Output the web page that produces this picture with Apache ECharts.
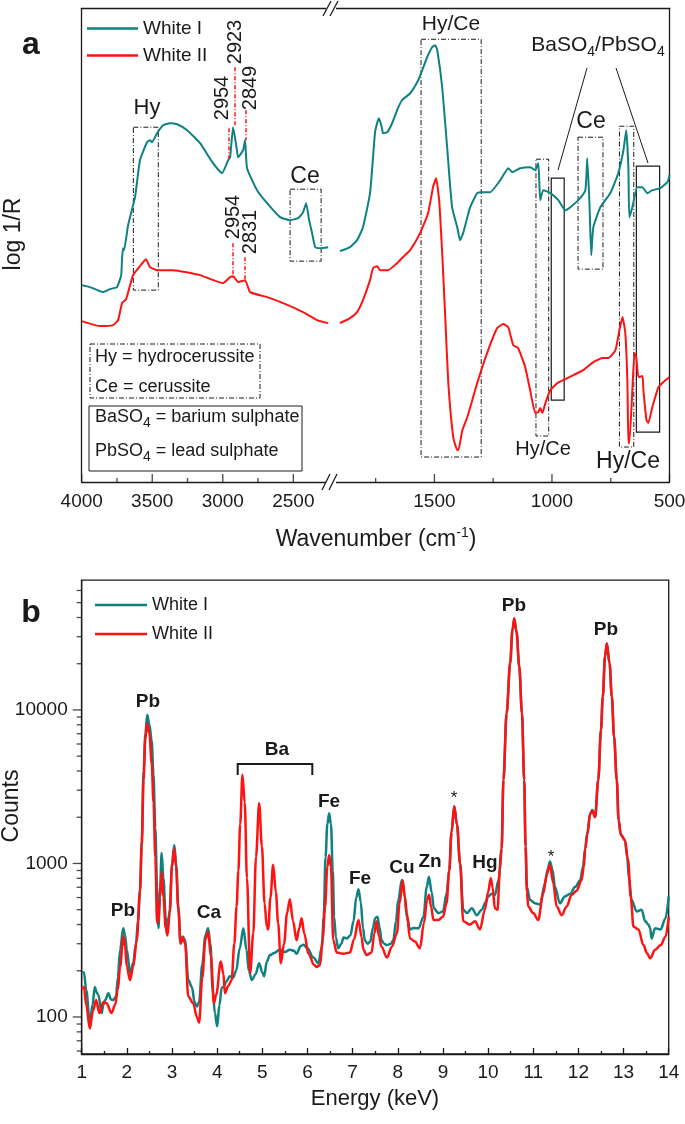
<!DOCTYPE html>
<html>
<head>
<meta charset="utf-8">
<script src="https://cdn.jsdelivr.net/npm/echarts@6/dist/echarts.min.js"></script>
<style>
html,body{margin:0;padding:0;background:#fff;}
#main{width:685px;height:1124px;}
</style>
</head>
<body>
<div id="main"></div>
<script>
// ---------- panel a : FTIR, log 1/R in arbitrary units ----------
// left part of the broken axis (4000 - 2250 cm-1)
const ftirWnTealLeft = [4000,3941,3849,3800,3750,3720,3714,3707,3700,3671,3622,3587,3537,3516,3501,3466,3423,3374,3324,3253,3161,3069,3005,2962,2948,2927,2905,2891,2856,2842,2828,2757,2686,2594,2523,2466,2431,2409,2388,2367,2345,2310,2253];
const ftirTealLeft   = [177,175,170,173,175,187,204,214,212,237,265,302,320,322,320,329,337,339,338,332,319,299,289,302,305,335,317,305,312,322,294,272,259,245,242,244,250,259,242,229,215,214,215];
const ftirWnRedLeft  = [4000,3870,3778,3742,3714,3685,3636,3587,3544,3516,3466,3353,3161,2998,2948,2927,2891,2842,2806,2686,2572,2431,2332,2253];
const ftirRedLeft    = [141,136,137,142,159,163,187,196,203,195,192,192,187,179,185,186,180,182,170,165,159,150,142,139];

// right part (1940 - 500 cm-1)
const ftirWnTealRight = [1902,1859,1829,1804,1774,1753,1744,1736,1723,1719,1701,1680,1659,1638,1603,1569,1552,1531,1510,1497,1488,1467,1446,1425,1403,1391,1378,1348,1318,1297,1263,1220,1186,1169,1135,1092,1071,1058,1050,1037,1007,973,943,922,888,858,850,841,833,824,794,752,718,696,684,675,671,658,637,616,594,573,539,509,500];
const ftirTealRight   = [211,215,222,235,269,329,339,344,334,329,330,339,352,362,369,382,392,405,415,417,412,375,315,255,235,222,229,255,269,270,270,282,294,290,294,295,292,299,262,272,269,262,252,255,262,272,304,262,207,235,255,269,289,312,332,295,245,255,275,275,269,272,274,280,287];
const ftirWnRedRight  = [1902,1859,1829,1804,1774,1761,1744,1731,1697,1659,1625,1603,1561,1527,1506,1493,1480,1467,1454,1441,1420,1403,1398,1381,1360,1318,1276,1233,1207,1186,1165,1144,1114,1093,1071,1058,1050,1041,1028,1007,986,977,952,909,867,824,786,760,730,713,700,688,679,675,671,658,649,641,632,615,611,598,590,573,547,526,500];
const ftirRedRight    = [139,144,150,162,182,194,196,192,192,199,207,212,229,249,275,284,262,209,145,79,25,12,12,32,45,79,109,134,138,135,117,114,95,72,49,50,54,49,59,72,77,79,82,87,92,100,104,104,112,132,145,129,79,19,19,72,109,104,85,86,72,42,39,55,75,80,85];

// band boxes [wn1, val1, wn2, val2]
const boxesDashLeft  = [[3634,335,3457,172],[2523,273,2303,201]];
const boxesDashRight = [[1557,423,1301,5],[1068,303,1014,26],[889,325,783,193],[713,336,652,15]];
const boxesSolidRight = [[1003,284,948,62],[641,296,542,30]];
// red guide marks [wn, from, to]
const peakMarks = [[2957,334,304],[2912,395,335],[2838,352,322],[2926,219,185],[2842,205,182]];

const wnTicksLeft = [2500,3000,3500,4000];
const wnMinorLeft = [2750,3250,3750];
const wnTicksRight = [500,1000,1500];
const wnMinorRight = [750,1250,1750];

// ---------- panel b : XRF ----------
const xrfEnergyI = [1.00,1.05,1.10,1.18,1.24,1.29,1.33,1.37,1.44,1.48,1.52,1.59,1.65,1.70,1.76,1.80,1.85,1.92,1.96,2.00,2.07,2.14,2.20,2.25,2.29,2.33,2.37,2.41,2.45,2.50,2.55,2.59,2.63,2.67,2.70,2.73,2.77,2.81,2.86,2.90,2.95,3.00,3.05,3.09,3.14,3.19,3.24,3.29,3.36,3.44,3.50,3.55,3.60,3.67,3.74,3.80,3.85,3.90,3.95,4.00,4.05,4.10,4.14,4.20,4.28,4.35,4.42,4.50,4.58,4.65,4.70,4.77,4.85,4.93,5.00,5.04,5.10,5.17,5.25,5.39,5.50,5.61,5.70,5.76,5.85,5.91,6.00,6.13,6.24,6.32,6.36,6.40,6.44,6.48,6.52,6.56,6.59,6.63,6.68,6.75,6.80,6.87,6.95,7.02,7.08,7.13,7.18,7.23,7.27,7.33,7.39,7.45,7.50,7.55,7.60,7.64,7.70,7.76,7.85,7.90,7.96,8.01,8.09,8.15,8.20,8.27,8.35,8.46,8.57,8.64,8.69,8.75,8.80,8.90,9.00,9.08,9.14,9.19,9.25,9.31,9.38,9.45,9.53,9.64,9.75,9.86,9.95,10.00,10.08,10.15,10.23,10.30,10.34,10.41,10.49,10.54,10.58,10.63,10.69,10.75,10.80,10.83,10.86,10.93,11.04,11.15,11.26,11.32,11.37,11.43,11.48,11.59,11.70,11.82,11.93,12.04,12.10,12.15,12.20,12.26,12.31,12.37,12.44,12.50,12.54,12.59,12.63,12.69,12.74,12.79,12.85,12.89,12.94,13.03,13.08,13.12,13.18,13.29,13.40,13.48,13.55,13.59,13.62,13.70,13.82,13.93,14.00];
const xrfCountsI = [197,195,150,91,120,157,145,139,106,120,129,143,130,129,136,180,274,378,340,274,193,224,300,428,672,1400,4000,7000,9300,8000,6300,3800,1700,700,380,600,1170,800,450,372,500,1000,1320,1000,524,302,335,316,174,157,125,117,125,220,340,378,300,150,106,87,120,155,157,170,184,180,200,280,378,274,200,174,190,224,195,184,230,253,260,274,265,274,270,258,290,295,280,244,224,287,450,1100,1800,2120,1800,900,450,330,280,300,330,325,340,420,600,680,560,380,316,300,310,380,440,450,380,316,300,294,300,316,420,578,780,620,450,372,380,378,450,700,820,650,510,475,487,635,900,1600,2370,1800,1000,500,475,510,460,500,560,610,635,620,776,1250,3500,9500,20000,33000,39000,32000,19000,9500,3500,1290,700,578,550,540,740,920,1030,900,705,550,610,635,705,776,950,1250,1600,2120,2230,2010,3500,7400,12200,22200,26900,20100,12200,6700,3500,1920,1540,1420,1100,800,578,487,500,420,400,378,325,378,372,440,610];
const xrfEnergyII = [1.00,1.05,1.10,1.18,1.25,1.32,1.39,1.48,1.55,1.66,1.74,1.80,1.85,1.92,1.96,2.00,2.07,2.14,2.22,2.29,2.33,2.37,2.41,2.45,2.50,2.55,2.59,2.63,2.67,2.70,2.73,2.77,2.81,2.86,2.90,2.95,3.00,3.05,3.09,3.14,3.19,3.24,3.29,3.36,3.47,3.55,3.60,3.67,3.74,3.80,3.86,3.93,3.98,4.08,4.14,4.17,4.25,4.32,4.38,4.43,4.47,4.51,4.56,4.61,4.66,4.73,4.80,4.86,4.93,4.99,5.05,5.10,5.13,5.18,5.24,5.30,5.35,5.41,5.48,5.55,5.61,5.68,5.76,5.82,5.87,5.93,6.02,6.15,6.20,6.28,6.34,6.39,6.44,6.48,6.52,6.57,6.65,6.79,6.94,7.03,7.13,7.20,7.24,7.31,7.42,7.48,7.53,7.58,7.64,7.76,7.87,7.98,8.04,8.11,8.16,8.20,8.27,8.38,8.49,8.58,8.65,8.69,8.74,8.79,8.90,9.00,9.08,9.14,9.19,9.25,9.31,9.38,9.45,9.60,9.71,9.82,9.93,10.00,10.06,10.10,10.15,10.21,10.26,10.30,10.34,10.41,10.49,10.54,10.58,10.63,10.69,10.75,10.80,10.83,10.86,10.89,11.00,11.11,11.22,11.30,11.37,11.44,11.52,11.63,11.74,11.85,11.96,12.07,12.12,12.15,12.20,12.26,12.31,12.37,12.44,12.50,12.54,12.59,12.63,12.69,12.74,12.79,12.85,12.89,12.94,13.03,13.10,13.16,13.22,13.33,13.44,13.52,13.59,13.70,13.82,13.93,14.00];
const xrfCountsII = [153,157,120,84,110,129,106,125,123,106,120,150,212,335,290,212,174,212,316,650,1300,3500,6500,8200,7000,4500,2500,1100,410,420,600,885,600,380,340,480,950,1250,950,500,300,330,300,136,123,100,92,180,320,360,250,123,140,230,190,143,160,174,300,524,900,1800,3780,2500,800,193,350,1100,2470,1300,550,387,372,600,980,650,410,224,300,480,585,420,316,380,440,350,258,218,212,218,330,524,950,1135,950,316,263,258,263,320,428,330,274,253,263,350,420,340,287,244,287,350,550,776,600,475,325,310,280,410,580,625,520,428,428,450,550,900,1600,2350,1800,1000,420,400,420,372,500,650,800,700,510,500,910,1250,3500,9500,20500,33500,39500,32500,19500,9600,3500,1290,650,524,475,428,635,850,980,750,524,460,524,625,665,776,950,1250,1550,2100,2200,2000,3500,7400,12200,22500,27200,20100,12300,6700,3500,1920,1540,1420,1060,600,387,372,294,260,241,274,294,333,450];

const countTicksMajor = [100,1000,10000];
const countTicksMinor = [60,70,80,90,200,300,400,500,600,700,800,900,2000,3000,4000,5000,6000,7000,8000,9000,20000,30000,40000,50000,60000];

const FONT = '"Liberation Sans", Arial, Helvetica, sans-serif';
const TEAL = '#0e8181';
const RED = '#ff1212';
const INK = '#1a1a1a';
const FTIR_MIN = -20, FTIR_MAX = 454;

function zip(xs, ys) { return xs.map(function (x, i) { return [x, ys[i]]; }); }

function txt(x, y, text, size, bold, rot, align) {
  var al = align || 'center';
  return {
    type: 'text', x: x, y: y, rotation: rot || 0, z: 60, silent: true,
    style: {
      text: text, fill: INK,
      font: (bold ? 'bold ' : '') + size + 'px ' + FONT,
      align: al, verticalAlign: 'middle',
      textAlign: al, textVerticalAlign: 'middle'
    }
  };
}

// text made of pieces, some lowered (sub) or raised (sup); pieces are [text, kind]
const measureCtx = document.createElement('canvas').getContext('2d');
function textWidth(s, size) { measureCtx.font = size + 'px ' + FONT; return measureCtx.measureText(s).width; }
function pieceText(x, y, pieces, size, smallSize, align) {
  var widths = pieces.map(function (p) { return textWidth(p[0], p[1] ? smallSize : size); });
  var total = widths.reduce(function (a, b) { return a + b; }, 0);
  var cx = align === 'left' ? x : x - total / 2;
  var out = [];
  pieces.forEach(function (p, i) {
    var dy = p[1] === 'sub' ? size * 0.32 : (p[1] === 'sup' ? -size * 0.3 : 0);
    out.push(txt(cx, y + dy, p[0], p[1] ? smallSize : size, false, 0, 'left'));
    cx += widths[i];
  });
  return out;
}
function seg(x1, y1, x2, y2, w, dash) {
  return { type: 'line', z: 60, silent: true, shape: { x1: x1, y1: y1, x2: x2, y2: y2 },
    style: { stroke: INK, lineWidth: w || 1, lineDash: dash || null } };
}
function box(x, y, w, h, dash) {
  return { type: 'rect', z: 60, silent: true, shape: { x: x, y: y, width: w, height: h },
    style: { fill: 'none', stroke: INK, lineWidth: 1, lineDash: dash || null } };
}
function areaData(list, style) {
  return list.map(function (b) {
    return [{ coord: [b[0], b[1]], itemStyle: style }, { coord: [b[2], b[3]] }];
  });
}
// inward tick marks on the bottom axis of a panel-a grid
function tickSeries(xi, yi, values, len) {
  return { name: 'tick' + xi + '_' + len, type: 'scatter', xAxisIndex: xi, yAxisIndex: yi, clip: false, silent: true, z: 10,
    data: values.map(function (v) { return [v, FTIR_MIN]; }),
    symbol: 'rect', symbolSize: [1.3, len], symbolOffset: [0, -len / 2], itemStyle: { color: INK } };
}

const DASHDOT = [5, 2, 1, 2];
const axLine = { show: true, onZero: false, lineStyle: { color: INK, width: 1.3 } };
const tickLbl = { fontSize: 19, color: INK, fontFamily: FONT };

function wnAxis(grid, min, max, pos, labels) {
  return {
    type: 'value', gridIndex: grid, inverse: true, min: min, max: max, position: pos,
    axisLine: axLine,
    axisTick: { show: false },
    axisLabel: labels ? Object.assign({ customValues: labels, margin: 10,
      formatter: function (v) { return String(Math.round(v)); } }, tickLbl) : { show: false },
    splitLine: { show: false }
  };
}

const gridTop = 8.3, gridH = 473.7;

const graphics = [
  // panel a
  txt(31, 45, 'a', 32, true),
  txt(14, 234, 'log 1/R', 23, false, Math.PI / 2),
  txt(147, 108, 'Hy', 22),
  txt(305, 177, 'Ce', 23),
  txt(451, 24, 'Hy/Ce', 21),
  txt(591, 122, 'Ce', 23),
  txt(543, 449, 'Hy/Ce', 20),
  txt(628, 462, 'Hy/Ce', 23),
  txt(222, 98, '2954', 20, false, Math.PI / 2),
  txt(235, 42, '2923', 20, false, Math.PI / 2),
  txt(250, 88, '2849', 20, false, Math.PI / 2),
  txt(233, 217, '2954', 20, false, Math.PI / 2),
  txt(250, 232, '2831', 20, false, Math.PI / 2),
  seg(587, 68, 558, 170, 1),
  seg(616, 68, 648, 163, 1),
  box(90, 344, 170, 54, DASHDOT),
  box(89, 406, 213, 65),
  txt(95, 357, 'Hy = hydrocerussite', 18, false, 0, 'left'),
  txt(95, 387, 'Ce = cerussite', 18, false, 0, 'left'),
  // axis break marks
  { type: 'rect', z: 55, silent: true, shape: { x: 326, y: 2, width: 10, height: 13 }, style: { fill: '#fff' } },
  { type: 'rect', z: 55, silent: true, shape: { x: 326, y: 475, width: 10, height: 13 }, style: { fill: '#fff' } },
  seg(323, 16, 331, 1, 1.3), seg(330, 16, 338, 1, 1.3),
  seg(322, 490, 330, 474, 1.3), seg(329, 490, 337, 474, 1.3),
  // panel b
  txt(31, 613, 'b', 32, true),
  txt(12, 806, 'Counts', 23, false, Math.PI / 2),
  txt(375, 1099, 'Energy (keV)', 22),
  txt(148, 702, 'Pb', 19, true),
  txt(277, 750, 'Ba', 19, true),
  { type: 'polyline', z: 60, silent: true, shape: { points: [[237.7, 775], [237.7, 764], [312.3, 764], [312.3, 775]] },
    style: { stroke: INK, lineWidth: 2, fill: 'none' } },
  txt(329, 802, 'Fe', 19, true),
  txt(123, 911, 'Pb', 19, true),
  txt(209, 913, 'Ca', 19, true),
  txt(360, 879, 'Fe', 19, true),
  txt(402, 868, 'Cu', 19, true),
  txt(430, 862, 'Zn', 19, true),
  txt(485, 863, 'Hg', 19, true),
  txt(454, 798, '*', 17),
  txt(551, 857, '*', 17),
  txt(514, 606, 'Pb', 19, true),
  txt(606, 630, 'Pb', 19, true)
].concat(
  pieceText(376, 540, [['Wavenumber (cm'], ['-1', 'sup'], [')']], 23, 14, 'center'),
  pieceText(598, 45, [['BaSO'], ['4', 'sub'], ['/PbSO'], ['4', 'sub']], 21, 14, 'center'),
  pieceText(95, 417, [['BaSO'], ['4', 'sub'], [' = barium sulphate']], 18, 14, 'left'),
  pieceText(95, 451, [['PbSO'], ['4', 'sub'], [' = lead sulphate']], 18, 14, 'left')
);

const option = {
  animation: false,
  backgroundColor: '#fff',
  textStyle: { fontFamily: FONT },
  grid: [
    { left: 81.7, top: gridTop, width: 246.9, height: gridH, outerBoundsMode: 'none' },
    { left: 331, top: gridTop, width: 338.5, height: gridH, outerBoundsMode: 'none' },
    { left: 81.7, top: 580.2, width: 587, height: 473.8, show: true, borderColor: INK, borderWidth: 1.3,
      backgroundColor: 'transparent', outerBoundsMode: 'none' }
  ],
  xAxis: [
    wnAxis(0, 2250, 4000, 'bottom', wnTicksLeft),
    wnAxis(0, 2250, 4000, 'top', null),
    wnAxis(1, 500, 1940, 'bottom', wnTicksRight),
    wnAxis(1, 500, 1940, 'top', null),
    {
      type: 'value', gridIndex: 2, min: 1, max: 14, interval: 1, position: 'bottom',
      axisLine: axLine,
      axisTick: { show: true, inside: true, length: 6, lineStyle: { color: INK, width: 1.3 } },
      minorTick: { show: true, splitNumber: 2, length: 3, lineStyle: { color: INK, width: 1.3 } },
      axisLabel: Object.assign({ margin: 9 }, tickLbl),
      splitLine: { show: false }
    }
  ],
  yAxis: [
    { type: 'value', gridIndex: 0, min: FTIR_MIN, max: FTIR_MAX, position: 'left', axisLine: axLine,
      axisTick: { show: false }, axisLabel: { show: false }, splitLine: { show: false } },
    { type: 'value', gridIndex: 1, min: FTIR_MIN, max: FTIR_MAX, position: 'right', axisLine: axLine,
      axisTick: { show: false }, axisLabel: { show: false }, splitLine: { show: false } },
    { type: 'log', logBase: 10, gridIndex: 2, min: 57.4, max: 70000, position: 'left', axisLine: axLine,
      axisTick: { show: false }, splitLine: { show: false },
      axisLabel: Object.assign({
        margin: 14,
        formatter: function (v) {
          var r = Math.round(v);
          return countTicksMajor.indexOf(r) >= 0 ? String(r) : '';
        }
      }, tickLbl) }
  ],
  legend: [
    { left: 87, top: 19, orient: 'vertical', padding: 0, icon: 'rect', itemWidth: 51, itemHeight: 2.5, itemGap: 8,
      data: ['White I', 'White II'], textStyle: { fontSize: 19, color: INK, fontFamily: FONT }, selectedMode: false },
    { left: 95, top: 596, orient: 'vertical', padding: 0, icon: 'rect', itemWidth: 52, itemHeight: 2.5, itemGap: 11,
      data: ['White I', 'White II'], textStyle: { fontSize: 18, color: INK, fontFamily: FONT }, selectedMode: false }
  ],
  series: [
    { name: 'White I', type: 'line', xAxisIndex: 0, yAxisIndex: 0, data: zip(ftirWnTealLeft, ftirTealLeft),
      showSymbol: false, smooth: 0.15, lineStyle: { color: TEAL, width: 2 }, itemStyle: { color: TEAL },
      markArea: { silent: true, label: { show: false },
        itemStyle: { color: 'rgba(0,0,0,0)', borderColor: INK, borderWidth: 1, borderType: DASHDOT },
        data: areaData(boxesDashLeft) } },
    { name: 'White II', type: 'line', xAxisIndex: 0, yAxisIndex: 0, data: zip(ftirWnRedLeft, ftirRedLeft),
      showSymbol: false, smooth: 0.15, lineStyle: { color: RED, width: 2 }, itemStyle: { color: RED },
      markLine: { silent: true, symbol: ['none', 'none'], label: { show: false },
        lineStyle: { color: RED, width: 1.5, type: [4, 2, 1, 2] },
        data: peakMarks.map(function (m) { return [{ coord: [m[0], m[1]] }, { coord: [m[0], m[2]] }]; }) } },
    { name: 'White I', type: 'line', xAxisIndex: 2, yAxisIndex: 1, data: zip(ftirWnTealRight, ftirTealRight),
      showSymbol: false, smooth: 0.15, lineStyle: { color: TEAL, width: 2 }, itemStyle: { color: TEAL },
      markArea: { silent: true, label: { show: false },
        itemStyle: { color: 'rgba(0,0,0,0)', borderColor: INK, borderWidth: 1, borderType: DASHDOT },
        data: areaData(boxesDashRight).concat(areaData(boxesSolidRight,
          { color: 'rgba(0,0,0,0)', borderColor: INK, borderWidth: 1.2, borderType: 'solid' })) } },
    { name: 'White II', type: 'line', xAxisIndex: 2, yAxisIndex: 1, data: zip(ftirWnRedRight, ftirRedRight),
      showSymbol: false, smooth: 0.15, lineStyle: { color: RED, width: 2 }, itemStyle: { color: RED } },
    tickSeries(0, 0, wnTicksLeft, 8),
    tickSeries(0, 0, wnMinorLeft, 4),
    tickSeries(2, 1, wnTicksRight, 8),
    tickSeries(2, 1, wnMinorRight, 4),
    { name: 'White I', type: 'line', xAxisIndex: 4, yAxisIndex: 2, data: zip(xrfEnergyI, xrfCountsI),
      showSymbol: false, smooth: 0.35, smoothMonotone: 'x', lineStyle: { color: TEAL, width: 2.5 }, itemStyle: { color: TEAL } },
    { name: 'White II', type: 'line', xAxisIndex: 4, yAxisIndex: 2, data: zip(xrfEnergyII, xrfCountsII),
      showSymbol: false, smooth: 0.35, smoothMonotone: 'x', lineStyle: { color: RED, width: 2.5 }, itemStyle: { color: RED } },
    // y ticks of the log axis (outside)
    { name: 'ticksMajor', type: 'scatter', xAxisIndex: 4, yAxisIndex: 2, clip: false, silent: true, z: 10,
      data: countTicksMajor.map(function (v) { return [1, v]; }),
      symbol: 'rect', symbolSize: [9, 1.3], symbolOffset: [-4.5, 0], itemStyle: { color: INK } },
    { name: 'ticksMinor', type: 'scatter', xAxisIndex: 4, yAxisIndex: 2, clip: false, silent: true, z: 10,
      data: countTicksMinor.map(function (v) { return [1, v]; }),
      symbol: 'rect', symbolSize: [5, 1.3], symbolOffset: [-2.5, 0], itemStyle: { color: INK } }
  ],
  graphic: graphics
};

const chart = echarts.init(document.getElementById('main'), null, { renderer: 'canvas' });
chart.setOption(option);
</script>
</body>
</html>
